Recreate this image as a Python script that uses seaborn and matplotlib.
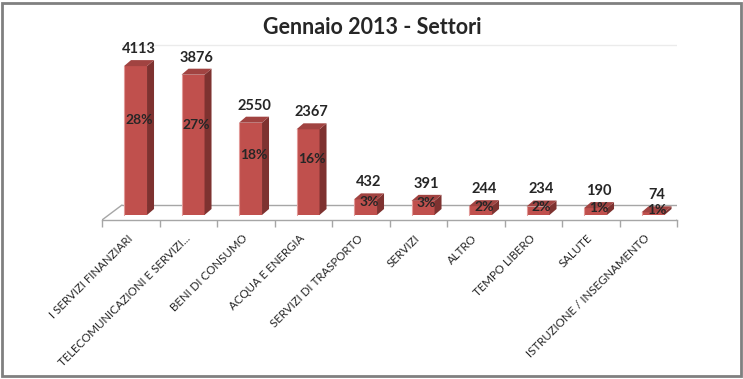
import numpy as np
import pandas as pd
import matplotlib.pyplot as plt
import seaborn as sns
from matplotlib.patches import Polygon, Rectangle

# Data
sectors = ["I SERVIZI FINANZIARI", "TELECOMUNICAZIONI E SERVIZI...", "BENI DI CONSUMO",
           "ACQUA E ENERGIA", "SERVIZI DI TRASPORTO", "SERVIZI", "ALTRO",
           "TEMPO LIBERO", "SALUTE", "ISTRUZIONE / INSEGNAMENTO"]
counts = [4113, 3876, 2550, 2367, 432, 391, 244, 234, 190, 74]
shares = [28, 27, 18, 16, 3, 3, 2, 2, 1, 1]
title = "Gennaio 2013 - Settori"

sns.set_style("white")
plt.rcParams["font.family"] = ["Lato", "DejaVu Sans"]

W, H = 743, 379
fig = plt.figure(figsize=(W / 100, H / 100), dpi=100)
ax = fig.add_axes([102 / W, (H - 220) / H, 575 / W, 190 / H])
ax.set_facecolor("none")

# pixel scales of the fake 3D view
px_x = 57.5      # px per category
px_y = 0.0362    # px per unit
base = 5 / px_y  # floor front edge below bar base
dx, dy = 7 / px_x, 6 / px_y
off = 0.083
front_c, side_c, top_c = "#C0504D", "#7E3230", "#A14341"
grey = "#A6A6A6"

df = pd.DataFrame({"settore": sectors, "n": counts})
sns.barplot(data=df, x="settore", y="n", color=front_c, saturation=1,
            width=0.4, linewidth=0, zorder=3, ax=ax)

bars = list(ax.patches)
for p, v, s in zip(bars, counts, shares):
    p.set_x(p.get_x() + off)
    x0 = p.get_x()
    x1 = x0 + p.get_width()
    h = p.get_height()
    ax.add_patch(Polygon([(x1, 0), (x1 + dx, dy), (x1 + dx, h + dy), (x1, h)],
                         closed=True, color=side_c, lw=0, zorder=3))
    ax.add_patch(Polygon([(x0, h), (x0 + dx, h + dy), (x1 + dx, h + dy), (x1, h)],
                         closed=True, color=top_c, lw=0, zorder=3))
    # light edge on the left of the front face
    ax.plot([x0, x0], [0, h], color="#E29A98", lw=0.8, zorder=4)
    cx = (x0 + x1) / 2 + dx / 2
    ax.annotate(str(v), (cx, h + dy), xytext=(0, 3), textcoords="offset points",
                ha="center", va="bottom", fontsize=10.5, fontweight="bold", zorder=5)
    ax.text(cx, 0.62 * h + dy / 2, f"{s}%", ha="center", va="center",
            fontsize=10, fontweight="bold", zorder=5)

# floor and back wall
fx, fy = 20 / px_x, 15 / px_y
ax.plot([-0.5 + fx, 9.5 + fx], [-base + fy, -base + fy], color=grey, lw=1, zorder=1)
ax.plot([-0.5, -0.5 + fx], [-base, -base + fy], color=grey, lw=1, zorder=1)
ax.plot([9.5, 9.5 + fx], [-base, -base + fy], color=grey, lw=1, zorder=1)
ax.plot([-0.5 + fx, 9.5 + fx], [170 / px_y, 170 / px_y], color="#EBEBEB", lw=1, zorder=0)

ax.set_xlim(-0.5, 9.5)
ax.set_ylim(-base, 190 / px_y - base)
ax.set_yticks([])
ax.set_xlabel("")
ax.set_ylabel("")
for side in ["left", "top", "right"]:
    ax.spines[side].set_visible(False)
ax.spines["bottom"].set_color(grey)
ax.spines["bottom"].set_linewidth(1)

ax.set_xticks(np.arange(-0.5, 10), minor=True)
ax.set_xticks(range(len(sectors)))
ax.set_xticklabels(sectors, rotation=45, ha="right", va="center",
                   rotation_mode="anchor", fontsize=8.3)
ax.tick_params(axis="x", which="minor", bottom=True, length=5, width=1, color=grey)
ax.tick_params(axis="x", which="major", length=0, pad=12)

fig.text(372.5 / W, 1 - 28 / H, title, ha="center", va="center",
         fontsize=15.5, fontweight="bold")
fig.patches.append(Rectangle((2 / W, 3 / H), 739 / W, 373 / H, transform=fig.transFigure,
                             fill=False, edgecolor="#808080", lw=2))

fig.savefig("out.png", dpi=100, facecolor="white")
